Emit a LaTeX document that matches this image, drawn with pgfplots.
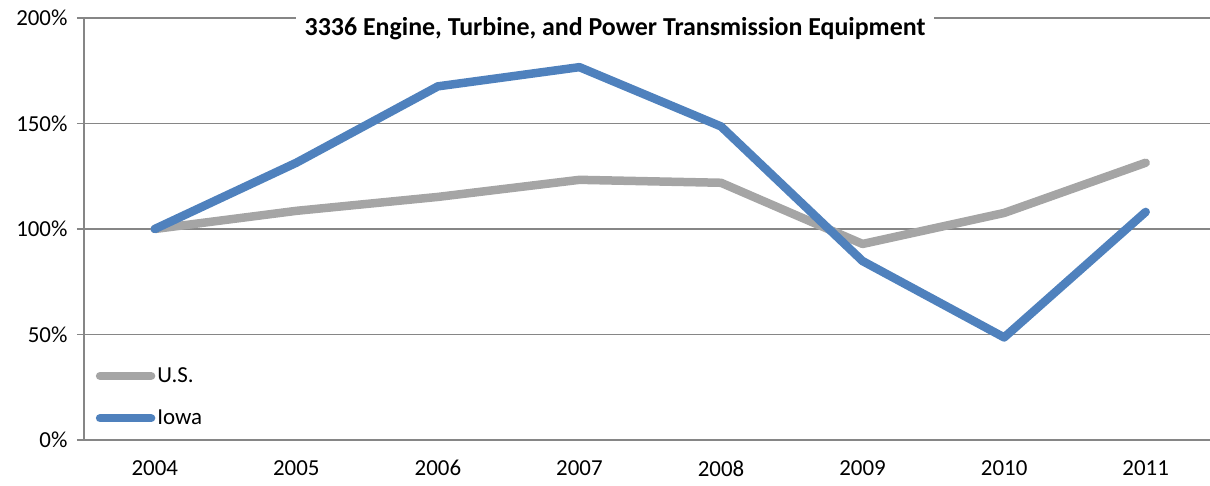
\documentclass[border=0pt]{standalone}
\usepackage{fontspec}
\setmainfont{Carlito}
\usepackage{pgfplots}
\pgfplotsset{compat=1.18}
\definecolor{usgray}{HTML}{A5A5A5}
\definecolor{iowablue}{HTML}{4F81BD}
\definecolor{gridgray}{HTML}{868686}
\begin{document}
\begin{tikzpicture}[x=1bp,y=1bp]
\useasboundingbox (-84,-46) rectangle (1126,440);
\begin{axis}[
 at={(0,0)}, anchor=south west,
 scale only axis, width=1126bp, height=422bp,
 xmin=-0.5, xmax=7.454, ymin=0, ymax=200,
 axis x line=bottom, axis y line=left,
 axis line style={gridgray, line width=1.5bp, -},
 xtick={0,1,2,3,4,5,6,7},
 xticklabels={2004,2005,2006,2007,2008,2009,2010,2011},
 x tick style={draw=none},
 ytick={0,50,100,150,200},
 /pgf/number format/assume math mode=true,
 yticklabel={\pgfmathprintnumber{\tick}\%},
 ymajorgrids, major grid style={gridgray, line width=1.2bp},
 y tick style={gridgray, line width=1.2bp},
 tick align=outside, major tick length=7bp,
 ticklabel style={font=\fontsize{23}{26}\selectfont},
 yticklabel style={xshift=-6bp},
 xticklabel style={yshift=-10bp},
 legend style={at={(axis description cs:0.005,0.013)}, anchor=south west, draw=none, fill=none,
   font=\fontsize{23}{26}\selectfont, row sep=22bp, inner sep=6bp},
 legend cell align=left,
 legend image code/.code={\draw[#1, line cap=round] (0bp,0bp) -- (51bp,0bp);},
]
\addplot[usgray, line width=8.5bp, line join=round, line cap=round] coordinates {(0,100)(1,108.6)(2,115.2)(3,123.3)(4,121.9)(5,92.9)(6,107.6)(7,131.4)};
\addlegendentry{U.S.}
\addplot[iowablue, line width=8.5bp, line join=round, line cap=round] coordinates {(0,100)(1,131.4)(2,167.6)(3,176.7)(4,148.6)(5,84.8)(6,48.6)(7,108.1)};
\addlegendentry{Iowa}
\node[fill=white, inner xsep=9bp, inner ysep=3bp, font=\bfseries\fontsize{26}{29}\selectfont] at (rel axis cs:0.4716,0.976) {3336 Engine, Turbine, and Power Transmission Equipment};
\end{axis}
\end{tikzpicture}
\end{document}
